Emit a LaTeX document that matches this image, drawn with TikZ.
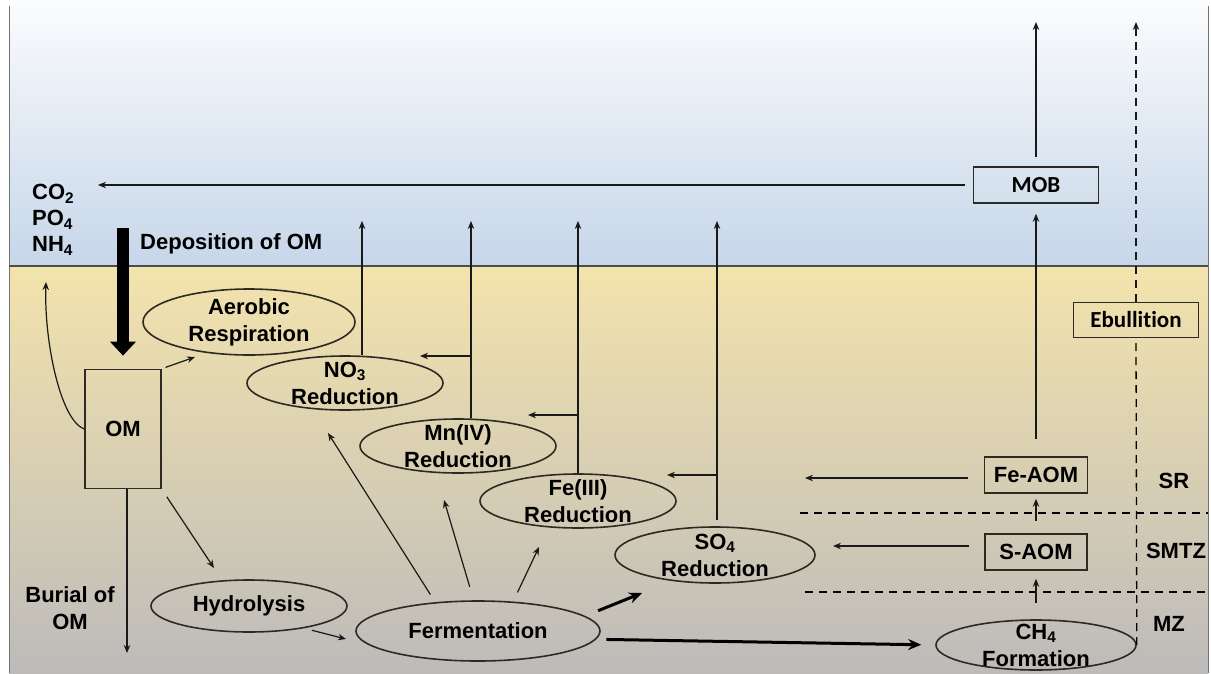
\documentclass[tikz,border=0pt]{standalone}
\usepackage{fontspec}
\setmainfont{Liberation Sans}
\newfontfamily\boxfamily[Ligatures=NoCommon]{Carlito}
\usetikzlibrary{shapes.geometric,arrows.meta}

\definecolor{skytop}{RGB}{251,252,253}
\definecolor{skybot}{RGB}{198,214,233}
\definecolor{sedtop}{RGB}{243,227,172}
\definecolor{sedbot}{RGB}{189,187,186}
\definecolor{rim}{RGB}{45,42,36}

\newcommand{\lbl}{\fontsize{22}{27}\selectfont\bfseries}
\newcommand{\boxlbl}{\fontsize{23}{27}\selectfont\boxfamily\bfseries}

\tikzset{
  proc/.style={ellipse,draw=rim,line width=1.6pt,inner sep=0pt},
  pbox/.style={rectangle,draw=rim,line width=1.6pt,inner sep=0pt,font=\lbl},
  lab/.style={font=\lbl,inner sep=0pt,align=center},
  flow/.style={line width=1.2pt,draw=black!90,-{Stealth[length=8pt,width=6.5pt]}},
  bigflow/.style={line width=3pt,-{Stealth[length=13pt,width=11pt]}},
  deparrow/.style={line width=12pt,-{Triangle[length=14pt,width=25pt]}},
  zone/.style={line width=1.3pt,dash pattern=on 8pt off 6pt},
}

\begin{document}
\begin{tikzpicture}[x=1pt,y=-1pt]
\useasboundingbox (0,0) rectangle (1211,673);

% Drawing water column and sediment
\shade[top color=skytop,bottom color=skybot] (9,0) rectangle (1208,266);
\shade[top color=sedtop,bottom color=sedbot] (9,266) rectangle (1208,673);
\draw[line width=0.8pt,black!55] (9,6) -- (9,673) (1208,6) -- (1208,673);
\draw[line width=1.6pt,black!70] (9,266) -- (1208,266);

% Zone boundaries
\draw[zone] (800,513) -- (1208,513);
\draw[zone] (805,592) -- (1208,592);

% Processes
\node[proc,minimum width=212pt,minimum height=66pt,label={[lab]center:Aerobic\\Respiration}] (aer) at (249,322) {};
\node[proc,minimum width=196pt,minimum height=54pt,label={[lab]center:NO\textsubscript{3}\\Reduction}] (no3) at (345,383) {};
\node[proc,minimum width=196pt,minimum height=54pt,label={[lab]center:Mn(IV)\\Reduction}] (mn) at (458,446) {};
\node[proc,minimum width=196pt,minimum height=54pt,label={[lab]center:Fe(III)\\Reduction}] (fe) at (578,501) {};
\node[proc,minimum width=200pt,minimum height=56pt,label={[lab]center:SO\textsubscript{4}\\Reduction}] (so4) at (715,555) {};
\node[proc,minimum width=196pt,minimum height=52pt,label={[lab]center:Hydrolysis}] (hyd) at (249,606) {};
\node[proc,minimum width=244pt,minimum height=60pt,label={[lab]center:Fermentation}] (ferm) at (478,631) {};
\node[proc,minimum width=200pt,minimum height=50pt,label={[lab]center:CH\textsubscript{4}\\Formation}] (ch4) at (1036,645) {};

% Boxes
\node[pbox,minimum width=76pt,minimum height=119pt] (om) at (123,429) {OM};
\node[pbox,font=\boxlbl,minimum width=125pt,minimum height=36pt] (mob) at (1036,185) {MOB};
\node[pbox,font=\boxlbl,minimum width=125pt,minimum height=35pt] (ebul) at (1136,320) {Ebullition};
\node[pbox,minimum width=103pt,minimum height=36pt] (feaom) at (1036,475) {Fe-AOM};
\node[pbox,minimum width=102pt,minimum height=36pt] (saom) at (1036,552) {S-AOM};

% Free labels
\node[lab,anchor=west,align=left,font=\fontsize{22}{26}\selectfont\bfseries] (gas) at (32,220) {CO\textsubscript{2}\\PO\textsubscript{4}\\NH\textsubscript{4}};
\node[lab,anchor=base west] (dep) at (140,249) {Deposition of OM};
\node[lab] (bur) at (70,608) {Burial of\\OM};
\node[lab] (sr) at (1174,481) {SR};
\node[lab] (smtz) at (1176,551) {SMTZ};
\node[lab] (mz) at (1169,624) {MZ};

% Free ends
\coordinate (co2tip) at (98,185);
\coordinate (deptop) at (123,228);
\coordinate (uptip) at (46,282);
\coordinate (burtip) at (127,653);
\coordinate (aertip) at (195,357);
\coordinate (hydtip) at (214,568);
\coordinate (fermtip) at (346,639);
\coordinate (no3tip) at (328,433);
\coordinate (mntip) at (444,500);
\coordinate (fetip) at (539,547);
\coordinate (so4tip) at (642,593);
\coordinate (no3up) at (362,221);
\coordinate (mnup) at (471,221);
\coordinate (feup) at (578,221);
\coordinate (soup) at (717,221);
\coordinate (mnleft) at (420,356);
\coordinate (feleft) at (528,415);
\coordinate (soleft) at (667,475);
\coordinate (fealeft) at (805,478);
\coordinate (saleft) at (833,546);
\coordinate (mobtop) at (1036,22);
\coordinate (bubtop) at (1136,22);

% Deposition and burial of OM
\draw[deparrow,shorten >=13pt] (deptop) -- (om.north);
\draw[flow] ([xshift=4pt]om.south) -- (burtip);
\draw[flow] (om.west) .. controls (60,420) and (44,340) .. (uptip);
\draw[flow,shorten <=4pt] (om.north east) -- (aertip);
\draw[flow,shorten <=9pt] (om.south east) -- (hydtip);
\draw[flow,shorten <=8pt] (hyd.-22) -- (fermtip);

% Fermentation products
\draw[flow,shorten <=9pt] (ferm.146) -- (no3tip);
\draw[flow,shorten <=14pt] (ferm.98) -- (mntip);
\draw[flow,shorten <=10pt] (ferm.40) -- (fetip);
\draw[bigflow,shorten <=14pt] (ferm.8) -- (so4tip);
\draw[bigflow,shorten <=10pt,shorten >=14pt] (ferm.-4) -- (ch4.west);

% Electron acceptors
\draw[flow] (no3up |- no3.north) -- (no3up);
\draw[flow] (mnup |- mn.north) -- (mnup);
\draw[flow] (mnleft -| mnup) -- (mnleft);
\draw[flow] (feup |- fe.north) -- (feup);
\draw[flow] (feleft -| feup) -- (feleft);
\draw[flow,shorten <=6pt] (soup |- so4.north) -- (soup);
\draw[flow] (soleft -| soup) -- (soleft);

% Methane pathway
\draw[flow,shorten <=16pt,shorten >=8pt] (ch4.north) -- (saom.south);
\draw[flow,shorten <=12pt,shorten >=5pt] (saom.north) -- (feaom.south);
\draw[flow,shorten <=16pt] (feaom.west |- fealeft) -- (fealeft);
\draw[flow,shorten <=15pt] (saom.west |- saleft) -- (saleft);
\draw[flow,shorten <=17pt,shorten >=10pt] (feaom.north) -- (mob.south);
\draw[flow,shorten <=9pt] (mob.north) -- (mobtop);
\draw[flow,shorten <=8pt] (mob.west) -- (co2tip);
\draw[zone] (ch4.east) -- (ebul.south);
\draw[zone,flow] (ebul.north) -- (bubtop);
\end{tikzpicture}
\end{document}
